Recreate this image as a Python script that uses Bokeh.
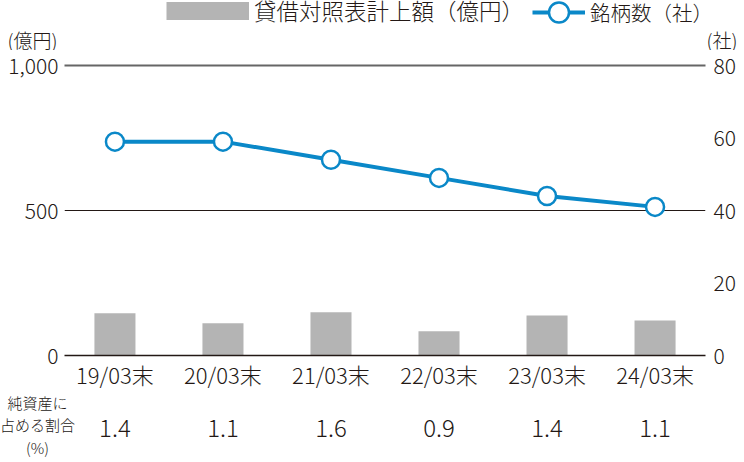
from bokeh.plotting import figure
from bokeh.layouts import column
from bokeh.models import (Range1d, LinearAxis, FixedTicker, NumeralTickFormatter,
                          Legend, LegendItem, Label, Grid)
from bokeh.embed import file_html
from bokeh.resources import INLINE

categories = ["19/03末", "20/03末", "21/03末", "22/03末", "23/03末", "24/03末"]
amounts = [146, 111, 149, 84, 138, 121]          # 貸借対照表計上額(億円)
counts = [59, 59, 54, 49, 44, 41]                # 銘柄数(社)
ratios = ["1.4", "1.1", "1.6", "0.9", "1.4", "1.1"]  # 純資産に占める割合(%)
left_ticks = [0, 500, 1000]
right_ticks = [0, 20, 40, 60, 80]

FONT = "Noto Sans CJK JP Light, Noto Sans CJK JP"
TXT = "#231815"
BAR = "#b4b4b4"
BLUE = "#0a88c8"

W = 744
TOP_H = 50
MAIN_T = 15
FRAME_L, FRAME_W, FRAME_H = 64, 641, 290
MAIN_B = 40
BOT_H = 462 - TOP_H - MAIN_T - FRAME_H - MAIN_B

positions = list(range(len(categories)))
X0, X1 = -0.467, 5.467
ppu = FRAME_W / (X1 - X0)

common = dict(output_backend="svg", toolbar_location=None)

# ---------------- top strip: legend + unit labels ----------------
top = figure(width=W, height=TOP_H, x_range=Range1d(0, W), y_range=Range1d(0, TOP_H),
             min_border=0, x_axis_location=None, y_axis_location=None, **common)
top.frame_align = False
top.outline_line_color = None
top.grid.visible = False
# legend keys (not drawn in the strip itself)
lb = top.line(x=positions, y=amounts, line_color=BAR, line_width=18, visible=False)
ll = top.line(x=positions, y=counts, line_color=BLUE, line_width=4, visible=False)
ls = top.scatter(x=positions, y=counts, fill_color="white", line_color=BLUE, line_width=2.5,
                 visible=False)
legend_style = dict(orientation="horizontal", padding=0, margin=0, label_standoff=5,
                    border_line_color=None, background_fill_alpha=0, inactive_fill_alpha=0,
                    label_text_font=FONT, label_text_color=TXT)
leg1 = Legend(items=[LegendItem(label="貸借対照表計上額（億円）", renderers=[lb])],
              location=(166, TOP_H - 26), glyph_width=83, glyph_height=25,
              label_text_font_size="22.5px", **legend_style)
leg2 = Legend(items=[LegendItem(label="銘柄数（社）", renderers=[ll, ls])],
              location=(532, TOP_H - 37), glyph_width=53, glyph_height=50,
              label_text_font_size="20.5px", **legend_style)
top.add_layout(leg1, "center")
top.add_layout(leg2, "center")
top.add_layout(Label(x=57, y=TOP_H - 39, text="(億円)", text_align="right", text_baseline="middle",
                     text_font=FONT, text_font_size="19px", text_color=TXT))
top.add_layout(Label(x=706, y=TOP_H - 39, text="(社)", text_align="left", text_baseline="middle",
                     text_font=FONT, text_font_size="19px", text_color=TXT))

# ---------------- main chart ----------------
p = figure(x_range=Range1d(X0, X1), y_range=Range1d(0, 1000),
           frame_width=FRAME_W, frame_height=FRAME_H,
           min_border_left=FRAME_L, min_border_right=W - FRAME_L - FRAME_W,
           min_border_top=MAIN_T, min_border_bottom=MAIN_B,
           x_axis_location=None, y_axis_location=None, **common)
p.outline_line_color = None
p.grid.visible = False
p.extra_y_ranges = {"count": Range1d(0, 80)}

p.add_layout(Grid(dimension=1, ticker=FixedTicker(ticks=[left_ticks[1]]),
                  grid_line_color=TXT, grid_line_width=1))

bars = p.vbar(x=positions, top=amounts, width=0.38, fill_color=BAR, line_color=None)
p.line(x=positions, y=counts, y_range_name="count", line_color=BLUE, line_width=4)
p.scatter(x=positions, y=counts, y_range_name="count", size=18,
          fill_color="white", line_color=BLUE, line_width=2.5)

def style_axis(ax, size):
    ax.axis_line_color = None
    ax.major_tick_line_color = None
    ax.minor_tick_line_color = None
    ax.major_tick_out = 0
    ax.major_tick_in = 0
    ax.major_label_text_font = FONT
    ax.major_label_text_font_size = size
    ax.major_label_text_color = TXT

yl = LinearAxis(ticker=FixedTicker(ticks=left_ticks), formatter=NumeralTickFormatter(format="0,0"))
style_axis(yl, "21px")
yl.major_label_standoff = 6
p.add_layout(yl, "left")

yr = LinearAxis(y_range_name="count", ticker=FixedTicker(ticks=right_ticks))
style_axis(yr, "21px")
yr.major_label_standoff = 8
p.add_layout(yr, "right")

xc = LinearAxis(ticker=FixedTicker(ticks=positions),
                major_label_overrides=dict(zip(positions, categories)))
style_axis(xc, "22px")
xc.axis_line_color = TXT
xc.axis_line_width = 1.5
xc.major_label_standoff = 2
p.add_layout(xc, "below")

# top line of the chart (1,000)
xt = LinearAxis(ticker=FixedTicker(ticks=[]))
style_axis(xt, "1px")
xt.major_label_standoff = 0
xt.axis_line_color = "#666666"
xt.axis_line_width = 2
p.add_layout(xt, "above")

# ---------------- bottom strip: ratio row ----------------
bx0 = X0 - FRAME_L / ppu
bot = figure(width=W, height=BOT_H, x_range=Range1d(bx0, bx0 + W / ppu),
             y_range=Range1d(0, BOT_H), min_border=0,
             x_axis_location=None, y_axis_location=None, **common)
bot.frame_align = False
bot.outline_line_color = None
bot.grid.visible = False
bot.text(x=positions, y=BOT_H - 32, text=ratios, text_align="center", text_baseline="middle",
         text_font={"value": FONT}, text_font_size="24px", text_color=TXT)
bot.add_layout(Label(x=37, y=BOT_H - 29.5, x_units="screen", y_units="data",
                     text="純資産に\n占める割合\n(%)",
                     text_align="center", text_baseline="middle", text_font=FONT,
                     text_font_size="15px", text_line_height=1.05, text_color=TXT))

layout = column(top, p, bot, spacing=0)
open("out.html", "w").write(file_html(layout, INLINE))
